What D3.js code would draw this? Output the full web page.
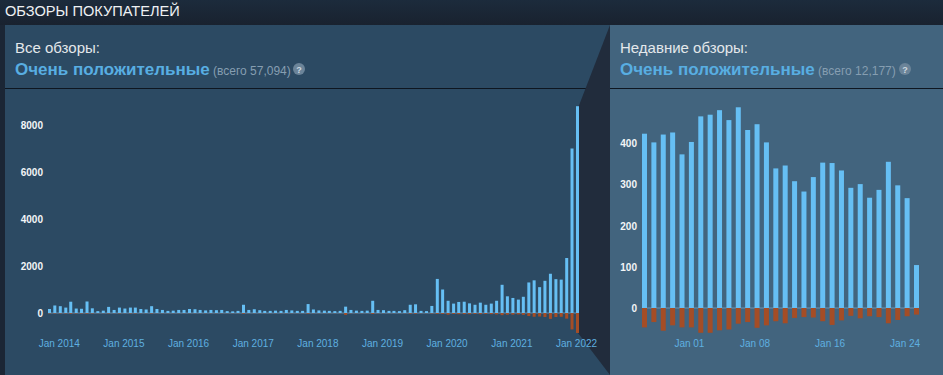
<!DOCTYPE html>
<html>
<head>
<meta charset="utf-8">
<script src="https://cdn.jsdelivr.net/npm/d3@7/dist/d3.min.js"></script>
<style>
    body { margin: 0; background: #1b2635; overflow: hidden; }
    svg { display: block; font-family: "Liberation Sans", Arial, sans-serif; }
    .axis text { font-family: "Liberation Sans", Arial, sans-serif; font-size: 10px; }
    .axis--y text { fill: #f2f5f7; font-weight: bold; }
    .axis--x text { fill: #5fb0e0; }
</style>
</head>
<body>
<svg id="reviews" width="943" height="375"></svg>
<script>
var titleText = "ОБЗОРЫ ПОКУПАТЕЛЕЙ",
    ratingText = "Очень положительные";

// all reviews, monthly from Nov 2013
var overallUp = [
    170, 320, 290, 230, 480, 190, 180, 490, 200, 80, 100, 260, 130, 230, 190, 230, 230, 170, 150, 290,
    170, 130, 90, 100, 130, 130, 170, 160, 130, 110, 130, 120, 130, 80, 70, 90, 350, 130, 160, 120,
    90, 90, 100, 90, 130, 110, 90, 90, 380, 150, 110, 100, 90, 80, 90, 270, 130, 100, 90, 100,
    520, 130, 120, 90, 90, 80, 120, 350, 370, 90, 80, 300, 1450, 1000, 520, 400, 470, 480, 410, 350,
    440, 350, 400, 520, 1200, 710, 640, 570, 690, 1300, 1390, 1100, 1370, 1670, 1440, 1420, 2340, 7000, 8800
];
var overallDown = [
    20, 20, 20, 20, 30, 20, 20, 30, 20, 10, 10, 20, 10, 20, 10, 20, 20, 10, 10, 20,
    10, 10, 10, 10, 10, 10, 10, 10, 10, 10, 10, 10, 10, 10, 10, 10, 30, 10, 10, 10,
    10, 10, 10, 10, 10, 10, 10, 10, 30, 10, 10, 10, 10, 10, 10, 80, 10, 10, 10, 10,
    40, 10, 10, 10, 10, 10, 10, 30, 30, 10, 10, 20, 40, 40, 70, 40, 50, 50, 50, 40,
    50, 40, 50, 60, 90, 70, 70, 60, 80, 130, 160, 150, 170, 250, 170, 160, 240, 700, 850
];

// recent reviews, daily from 27 Dec
var recentUp = [
    422, 401, 420, 425, 372, 402, 464, 468, 479, 455, 486, 431, 445, 401, 338,
    345, 307, 282, 317, 352, 351, 333, 291, 300, 267, 286, 354, 297, 266, 104
];
var recentDown = [
    47, 34, 55, 42, 47, 47, 60, 60, 54, 52, 38, 34, 48, 42, 32,
    37, 24, 22, 23, 32, 41, 30, 19, 25, 20, 22, 37, 29, 20, 16
];

var overallTicksY = [0, 2000, 4000, 6000, 8000],
    recentTicksY = [0, 100, 200, 300, 400],
    overallTicksX = [2014, 2015, 2016, 2017, 2018, 2019, 2020, 2021, 2022],
    recentTicksX = [1, 8, 16, 24];

var svg = d3.select("#reviews");

var colors = {
    up: "#66bff4",
    down: "#a44d26",
    zero: "#7fa6c4",
    wedge: "#212c3c",
    rule: "#0e1620",
    rating: "#58aee2",
    label: "#e4e8eb",
    total: "#869eb1",
    help: "#6b8499"
};

// backgrounds
var defs = svg.append("defs");
var strip = defs.append("linearGradient").attr("id", "strip").attr("x1", 0).attr("x2", 0).attr("y1", 0).attr("y2", 1);
strip.append("stop").attr("offset", "0%").attr("stop-color", "#1c2b3c");
strip.append("stop").attr("offset", "100%").attr("stop-color", "#19222f");

svg.append("rect").attr("width", 943).attr("height", 25).attr("fill", "url(#strip)");
svg.append("rect").attr("x", 5).attr("y", 25).attr("width", 605).attr("height", 350).attr("fill", "#2c4a63");
svg.append("rect").attr("x", 610).attr("y", 25).attr("width", 333).attr("height", 350).attr("fill", "#42647e");
svg.append("rect").attr("x", 5).attr("y", 88).attr("width", 938).attr("height", 1).attr("fill", colors.rule);

svg.append("polygon")
    .attr("points", "610,25 578,108 578,333 610,375")
    .attr("fill", colors.wedge);

svg.append("text").attr("x", 5).attr("y", 16)
    .attr("font-size", 14.6).attr("fill", "#eef1f3").text(titleText);

function drawHeader(x, label, total, helpX) {
    svg.append("text").attr("x", x).attr("y", 53)
        .attr("font-size", 15).attr("fill", colors.label).text(label);
    svg.append("text").attr("x", x).attr("y", 75)
        .attr("font-size", 17).attr("font-weight", "bold").attr("fill", colors.rating).text(ratingText);
    svg.append("text").attr("x", x + 198).attr("y", 75)
        .attr("font-size", 12).attr("fill", colors.total).text(total);
    svg.append("circle").attr("cx", helpX).attr("cy", 69).attr("r", 6).attr("fill", colors.help);
    svg.append("text").attr("x", helpX).attr("y", 72.5)
        .attr("text-anchor", "middle").attr("font-size", 9).attr("font-weight", "bold")
        .attr("fill", "#cfd9e0").text("?");
}

drawHeader(15, "Все обзоры:", "(всего 57,094)", 299);
drawHeader(620, "Недавние обзоры:", "(всего 12,177)", 905);

function drawChart(opts) {
    var g = svg.append("g");
    var x = d3.scaleTime().domain(opts.domain).range(opts.xRange);
    var y = d3.scaleLinear().domain(opts.yDomain).range(opts.yRange);

    g.append("line")
        .attr("x1", opts.xRange[0]).attr("x2", opts.xRange[1] + opts.barWidth)
        .attr("y1", y(0)).attr("y2", y(0))
        .attr("stroke", colors.zero).attr("stroke-opacity", 0.7);

    g.selectAll(".down")
        .data(opts.down)
        .enter().append("rect")
            .attr("class", "down")
            .attr("fill", colors.down)
            .attr("x", function(d, i) { return x(opts.dates[i]); })
            .attr("y", y(0))
            .attr("width", opts.barWidth)
            .attr("height", function(d) { return y(-d) - y(0); });

    g.selectAll(".up")
        .data(opts.up)
        .enter().append("rect")
            .attr("class", "up")
            .attr("fill", colors.up)
            .attr("x", function(d, i) { return x(opts.dates[i]); })
            .attr("y", function(d) { return y(d); })
            .attr("width", opts.barWidth)
            .attr("height", function(d) { return y(0) - y(d); });

    var yAxis = g.append("g")
        .attr("class", "axis axis--y")
        .attr("transform", "translate(" + opts.yAxisX + ",0.5)")
        .call(d3.axisLeft(y).tickValues(opts.ticksY).tickSize(0).tickPadding(0).tickFormat(d3.format("d")));

    var xAxis = g.append("g")
        .attr("class", "axis axis--x")
        .attr("transform", "translate(0,337)")
        .call(d3.axisBottom(x).tickValues(opts.ticksX).tickSize(0).tickPadding(3).tickFormat(d3.timeFormat(opts.xFormat)));

    yAxis.select(".domain").remove();
    xAxis.select(".domain").remove();
}

drawChart({
    up: overallUp,
    down: overallDown,
    dates: overallUp.map(function(d, i) { return new Date(2013, 10 + i, 1); }),
    domain: [new Date(2013, 10, 1), new Date(2022, 0, 1)],
    xRange: [48, 576],
    yDomain: [-1000, 9000],
    yRange: [336.5, 101.5],
    barWidth: 3,
    yAxisX: 43,
    ticksY: overallTicksY,
    ticksX: overallTicksX.map(function(d) { return new Date(d, 0, 1); }),
    xFormat: "%b %Y"
});

drawChart({
    up: recentUp,
    down: recentDown,
    dates: recentUp.map(function(d, i) { return new Date(2021, 11, 27 + i); }),
    domain: [new Date(2021, 11, 27), new Date(2022, 0, 25)],
    xRange: [642, 914],
    yDomain: [-100, 500],
    yRange: [349.3, 101.5],
    barWidth: 5,
    yAxisX: 637,
    ticksY: recentTicksY,
    ticksX: recentTicksX.map(function(d) { return new Date(2022, 0, d); }),
    xFormat: "%b %d"
});
</script>
</body>
</html>
